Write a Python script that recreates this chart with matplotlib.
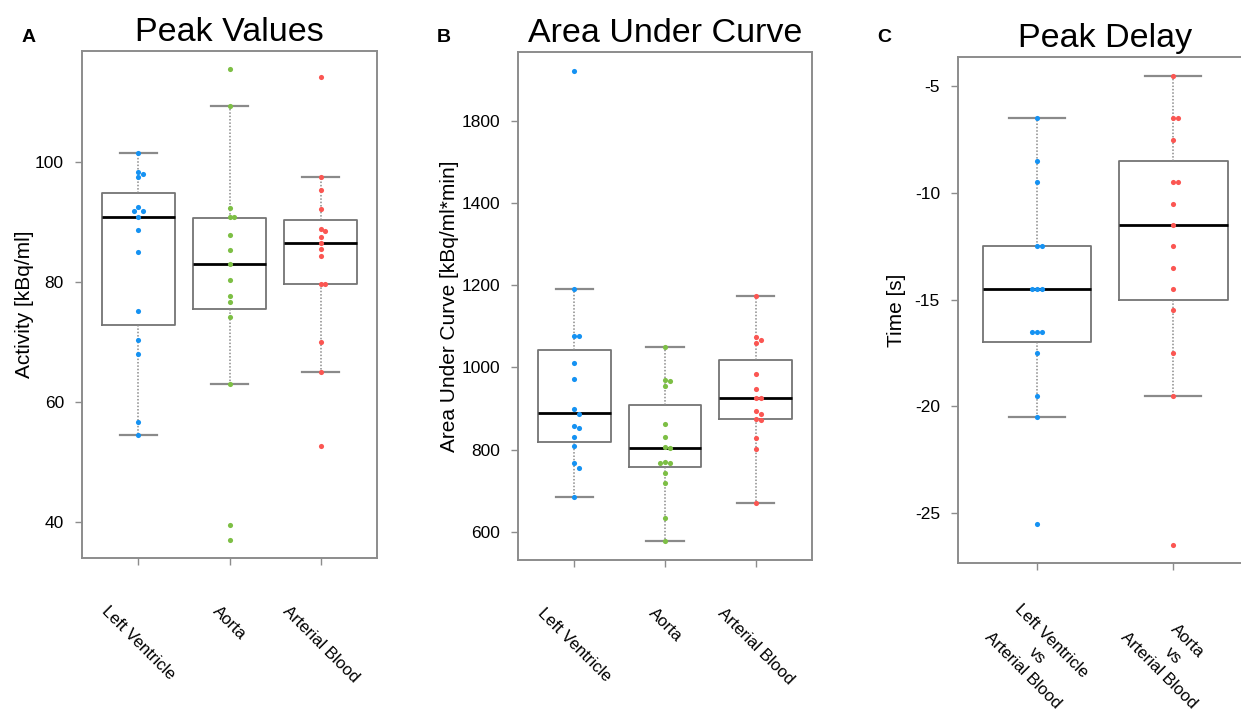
import numpy as np
import matplotlib
matplotlib.use("Agg")
import matplotlib.pyplot as plt

plt.rcParams['font.family'] = ['Liberation Sans', 'DejaVu Sans']

# ---- data ----
cats_ab = ['Left Ventricle', 'Aorta', 'Arterial Blood']
cats_c = ['Left Ventricle\nvs\nArterial Blood', 'Aorta\nvs\nArterial Blood']

# A: peak values [kBq/ml]
peak_lv = [101.4, 98.3, 98.0, 97.4, 92.5, 91.8, 91.8, 90.8, 88.6, 85.0, 75.2, 70.3, 68.0, 56.7, 54.4]
peak_ao = [115.4, 109.2, 92.3, 90.7, 90.7, 87.8, 85.2, 83.0, 80.2, 77.6, 76.6, 74.2, 63.0, 39.5, 37.0]
peak_ab = [114.0, 97.4, 95.3, 92.1, 88.7, 88.5, 87.4, 86.4, 85.5, 84.2, 79.6, 79.6, 69.9, 65.0, 52.6]
peak_q1 = [72.8, 75.4, 79.6]
peak_med = [90.8, 83.0, 86.4]
peak_q3 = [94.8, 90.6, 90.3]
peak_wlo = [54.4, 63.0, 65.0]
peak_whi = [101.4, 109.2, 97.4]

# B: area under curve [kBq/ml*min]
auc_lv = [2040, 1190, 1076, 1076, 1012, 972, 899, 888, 858, 854, 830, 810, 767, 756, 685]
auc_ao = [1050, 970, 968, 955, 863, 832, 807, 805, 771, 768, 768, 744, 720, 635, 578]
auc_ab = [1175, 1074, 1068, 1060, 984, 947, 927, 927, 895, 886, 876, 872, 828, 803, 670]
auc_q1 = [820, 757, 874]
auc_med = [889, 804, 926]
auc_q3 = [1043, 910, 1019]
auc_wlo = [685, 578, 670]
auc_whi = [1190, 1050, 1175]

# C: peak delay [s]
delay_lv = [-6.5, -8.5, -9.5, -12.5, -12.5, -14.5, -14.5, -14.5, -16.5, -16.5, -16.5, -17.5, -19.5, -20.5, -25.5]
delay_ao = [-4.5, -6.5, -6.5, -7.5, -9.5, -9.5, -10.5, -11.5, -12.5, -13.5, -14.5, -15.5, -17.5, -19.5, -26.5]
delay_q1 = [-17.0, -15.0]
delay_med = [-14.5, -11.5]
delay_q3 = [-12.5, -8.5]
delay_wlo = [-20.5, -19.5]
delay_whi = [-6.5, -4.5]

blue = '#1592f2'
green = '#7dbf45'
red = '#fb5652'

W, H = 1241, 713
fig = plt.figure(figsize=(W / 100, H / 100), dpi=100)


def px_axes(x0, x1, y0, y1):
    return fig.add_axes([x0 / W, 1 - y1 / H, (x1 - x0) / W, (y1 - y0) / H])


def swarm(ax, x, vals, color, d=4.8):
    # simple beeswarm in pixel space
    ys = ax.transData.transform(np.column_stack([np.full(len(vals), x), vals]))[:, 1]
    ppu = ax.transData.transform((1, 0))[0] - ax.transData.transform((0, 0))[0]
    placed = []
    offs = []
    for y in ys:
        for k in [0, 1, -1, 2, -2, 3, -3]:
            ox = k * d
            if all((ox - px) ** 2 + (y - py) ** 2 >= (d * 0.95) ** 2 for px, py in placed):
                break
        placed.append((ox, y))
        offs.append(ox / ppu)
    ax.plot(x + np.array(offs), vals, 'o', color=color, ms=3.7, mec='none', zorder=5)


def draw_panel(ax, groups, colors, q1, med, q3, wlo, whi):
    stats = []
    for i in range(len(groups)):
        stats.append(dict(q1=q1[i], med=med[i], q3=q3[i], whislo=wlo[i], whishi=whi[i], fliers=[]))
    ax.bxp(stats, positions=range(1, len(groups) + 1), widths=0.8, showfliers=False,
           boxprops=dict(color='#747474', lw=1.3),
           medianprops=dict(color='black', lw=2),
           whiskerprops=dict(color='#8a8a8a', lw=1.1, linestyle=(0, (1, 1.2))),
           capprops=dict(color='#8a8a8a', lw=1.6), capwidths=0.41)
    for i, (vals, c) in enumerate(zip(groups, colors)):
        swarm(ax, i + 1, vals, c)


def style(ax, labels, ylabel, title, letter, lx, xpad=30, ylpad=6):
    for s in ax.spines.values():
        s.set_color('#8c8c8c')
        s.set_linewidth(1.4)
    ax.tick_params(colors='#8c8c8c', length=5, width=1, labelcolor='black', labelsize=12.5)
    ax.tick_params(axis='y', pad=8)
    ax.set_xticks(range(1, len(labels) + 1))
    ax.set_xticklabels(labels, rotation=-45, ha='center', va='top', multialignment='center',
                       fontsize=12, linespacing=1.45)
    ax.tick_params(axis='x', pad=xpad)
    ax.set_ylabel(ylabel, fontsize=15, labelpad=ylpad)
    ax.set_title(title, fontsize=24.5, pad=7)
    fig.text(lx / W, 1 - 37 / H, letter, fontsize=14, fontweight='bold', ha='center', va='center')


# A
axA = px_axes(82, 377, 51, 558)
axA.set_xlim(0.38, 3.62)
axA.set_ylim(34.0, 118.4)
axA.set_yticks([40, 60, 80, 100])
draw_panel(axA, [peak_lv, peak_ao, peak_ab], [blue, green, red],
           peak_q1, peak_med, peak_q3, peak_wlo, peak_whi)
style(axA, cats_ab, 'Activity [kBq/ml]', 'Peak Values', 'A', 29, xpad=28, ylpad=1)


# B (axis compressed above 1400)
def fwd(v):
    v = np.asarray(v, dtype=float)
    return np.where(v <= 1400, v, 1400 + (v - 1400) / 2)


def inv(y):
    y = np.asarray(y, dtype=float)
    return np.where(y <= 1400, y, 1400 + (y - 1400) * 2)


axB = px_axes(518, 812, 52, 560)
axB.set_yscale('function', functions=(fwd, inv))
axB.set_xlim(0.38, 3.62)
axB.set_ylim(532, 2134)
axB.set_yticks([600, 800, 1000, 1200, 1400, 1800])
axB.set_yticklabels(['600', '800', '1000', '1200', '1400', '1800'])
axB.minorticks_off()
draw_panel(axB, [auc_lv, auc_ao, auc_ab], [blue, green, red],
           auc_q1, auc_med, auc_q3, auc_wlo, auc_whi)
style(axB, cats_ab, 'Area Under Curve [kBq/ml*min]', 'Area Under Curve', 'B', 444, xpad=28, ylpad=2)

# C
axC = px_axes(958, 1252, 57, 563)
axC.set_xlim(0.42, 2.58)
axC.set_ylim(-27.34, -3.63)
axC.set_yticks([-25, -20, -15, -10, -5])
axC.set_yticklabels(['-25', '-20', '-15', '-10', '-5'])
draw_panel(axC, [delay_lv, delay_ao], [blue, red],
           delay_q1, delay_med, delay_q3, delay_wlo, delay_whi)
style(axC, cats_c, 'Time [s]', 'Peak Delay', 'C', 884, xpad=22, ylpad=6)

fig.savefig('out.png', dpi=100)
